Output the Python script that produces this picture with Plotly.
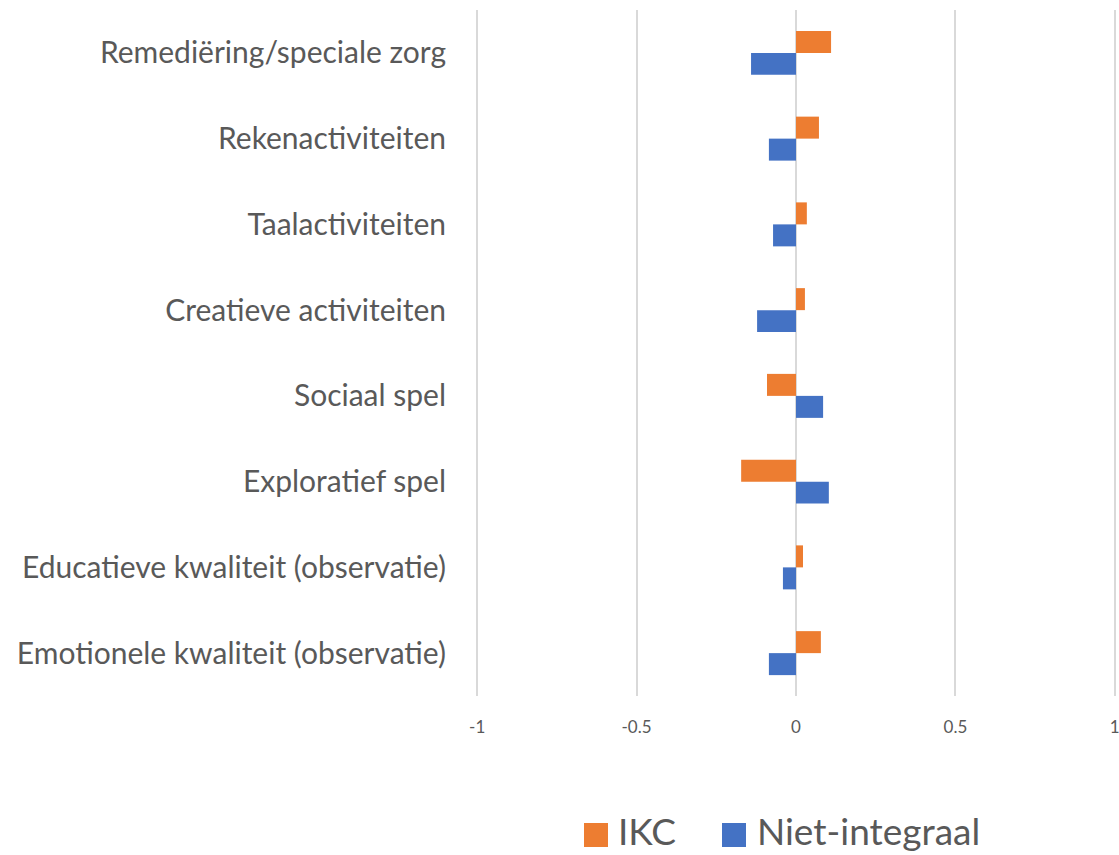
import plotly.graph_objects as go

categories = [
    "Remediëring/speciale zorg",
    "Rekenactiviteiten",
    "Taalactiviteiten",
    "Creatieve activiteiten",
    "Sociaal spel",
    "Exploratief spel",
    "Educatieve kwaliteit (observatie)",
    "Emotionele kwaliteit (observatie)",
]
ikc = [0.110, 0.072, 0.034, 0.028, -0.091, -0.172, 0.022, 0.078]
niet_integraal = [-0.141, -0.085, -0.072, -0.122, 0.085, 0.103, -0.041, -0.085]
tick_vals = [-1, -0.5, 0, 0.5, 1]
tick_text = ["-1", "-0.5", "0", "0.5", "1"]
series_names = ["IKC", "Niet-integraal"]
series_colors = ["#ED7D31", "#4472C4"]

FONT = "Lato"
TXT = "#595959"

W, H = 1119, 855
PLOT_L, PLOT_R, PLOT_T, PLOT_B = 474, 1, 10, 159
pw, ph = W - PLOT_L - PLOT_R, H - PLOT_T - PLOT_B

fig = go.Figure()
for name, vals, col in zip(series_names, [ikc, niet_integraal], series_colors):
    fig.add_trace(go.Bar(y=categories, x=vals, orientation="h", name=name,
                         marker=dict(color=col, line=dict(width=0)), showlegend=False))


def px_x(x):
    return (x - PLOT_L) / pw


def px_y(y):
    return (H - PLOT_B - y) / ph


# manual legend (large square swatches like the original)
legend_items = [(584, 620), (722, 759)]
for (sx, tx), name, col in zip(legend_items, series_names, series_colors):
    fig.add_shape(type="rect", xref="paper", yref="paper",
                  x0=px_x(sx), x1=px_x(sx + 24), y0=px_y(847), y1=px_y(823),
                  fillcolor=col, line=dict(width=0))
    fig.add_annotation(xref="paper", yref="paper", x=px_x(tx - 3), y=px_y(854),
                       xanchor="left", yanchor="bottom", text=name, showarrow=False,
                       borderpad=0,
                       font=dict(size=37, color=TXT, family=FONT))

fig.update_layout(
    width=W, height=H,
    margin=dict(l=PLOT_L, r=PLOT_R, t=PLOT_T, b=PLOT_B, autoexpand=False),
    paper_bgcolor="white", plot_bgcolor="white",
    barmode="group", bargap=0.487, bargroupgap=0,
    font=dict(family=FONT, color=TXT),
    showlegend=False,
)
fig.update_xaxes(range=[-1.01, 1.01], tickvals=tick_vals, ticktext=tick_text,
                 showgrid=True, gridcolor="#d9d9d9", gridwidth=2, zeroline=False,
                 showline=False, ticks="outside", ticklen=16, tickcolor="rgba(0,0,0,0)",
                 tickfont=dict(size=17, color=TXT, family=FONT), automargin=False,
                 ticklabeloverflow="allow")
fig.update_yaxes(autorange="reversed", showgrid=False, zeroline=False, showline=False,
                 ticks="outside", ticklen=21, tickcolor="rgba(0,0,0,0)",
                 tickfont=dict(size=30, color=TXT, family=FONT), automargin=False)

fig.write_html(
    "out.html",
    config={"displayModeBar": False},
    post_script="document.body.style.margin='0';document.body.style.overflow='hidden';"
                "document.documentElement.style.overflow='hidden';",
)
